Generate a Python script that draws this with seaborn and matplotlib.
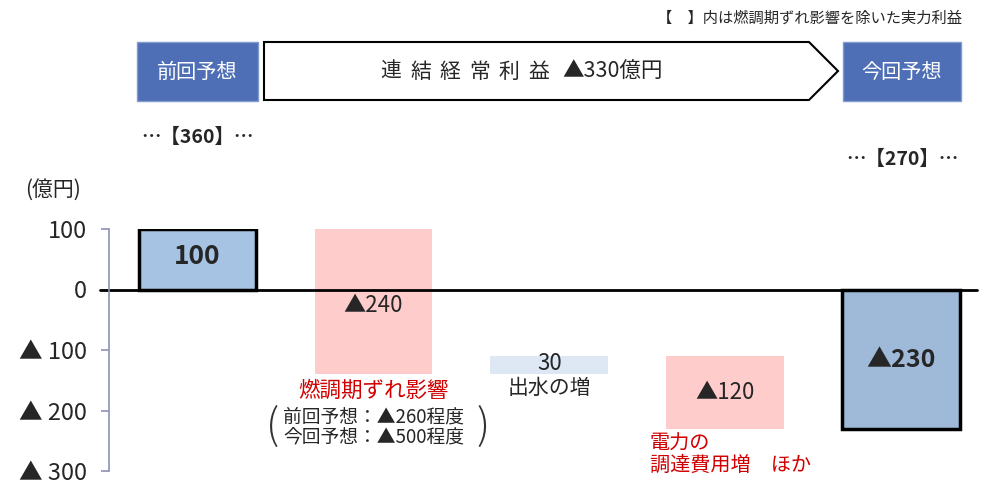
import numpy as np
import pandas as pd
import matplotlib
matplotlib.use('Agg')
import matplotlib.pyplot as plt
import seaborn as sns
from matplotlib.patches import Rectangle, Polygon

# ----- dados -----
categorias = ['前回予想', '燃調期ずれ影響', '出水の増', '電力の調達費用増 ほか', '今回予想']
variacoes = [100, -240, 30, -120, -230]
tipo = ['total', 'delta', 'delta', 'delta', 'total']
rotulos = ['100', '▲240', '30', '▲120', '▲230']
cores = ['#A7C3E4', '#FFCCCC', '#DEE8F4', '#FFCCCC', '#9FB9D9']
borda = ['black', 'none', 'none', 'none', 'black']
yticks = [100, 0, -100, -200, -300]
yticklabels = ['100', '0', '▲ 100', '▲ 200', '▲ 300']

# inicio / fim de cada barra (cascata)
inicio, fim = [], []
acum = 0
for v, t in zip(variacoes, tipo):
    if t == 'total':
        inicio.append(0)
        fim.append(v)
        acum = v
    else:
        inicio.append(acum)
        acum = acum + v
        fim.append(acum)
base = np.minimum(inicio, fim)
altura = np.abs(np.array(fim) - np.array(inicio))

df = pd.DataFrame({'cat': categorias, 'altura': altura})

sns.set_style('white')
plt.rcParams['font.family'] = ['Noto Sans CJK JP', 'DejaVu Sans']

fig = plt.figure(figsize=(10, 4.96), dpi=100)
ax = fig.add_axes([0.109, 25 / 496, 0.868, 242 / 496])

sns.barplot(data=df, x='cat', y='altura', bottom=base, color='#A7C3E4',
            width=0.67, errorbar=None, ax=ax)
for p, c, b in zip(ax.patches, cores, borda):
    p.set_facecolor(c)
    if b == 'none':
        p.set_edgecolor('none')
        p.set_linewidth(0)
    else:
        p.set_edgecolor(b)
        p.set_linewidth(2.5)
        p.set_zorder(3)

ax.set_xlim(-0.503, 4.43)
ax.set_ylim(-300, 100)
ax.axhline(0, xmin=-0.01, xmax=1, color='black', lw=2, clip_on=False, zorder=2)

ax.set_yticks(yticks)
ax.set_yticklabels(yticklabels, fontsize=17)
ax.set_xticks([])
ax.set_xlabel('')
ax.set_ylabel('')
for s in ['top', 'right', 'bottom']:
    ax.spines[s].set_visible(False)
ax.spines['left'].set_color('#8C90B4')
ax.spines['left'].set_linewidth(1.2)
ax.tick_params(axis='y', left=True, direction='out', length=6, color='#8C90B4',
               width=1.2, pad=10)

# rotulos das barras
ax.text(0, 55, rotulos[0], ha='center', va='center', fontsize=19, fontweight='bold')
ax.text(1, -27, rotulos[1], ha='center', va='center', fontsize=16)
ax.text(2, -122, rotulos[2], ha='center', va='center', fontsize=16)
ax.text(3, -171, rotulos[3], ha='center', va='center', fontsize=16)
ax.text(4, -117, rotulos[4], ha='center', va='center', fontsize=18, fontweight='bold')

ax.text(1, -167, '燃調期ずれ影響', ha='center', va='center', fontsize=15.5, color='#D00000')
ax.text(1, -228, '前回予想：▲260程度\n今回予想：▲500程度', ha='center', va='center',
        fontsize=13.5, linespacing=0.95)
ax.text(0.425, -228, '(', ha='center', va='center', fontsize=30, color='#333333',
        fontweight='light')
ax.text(1.62, -228, ')', ha='center', va='center', fontsize=30, color='#333333',
        fontweight='light')
ax.text(2, -163, '出水の増', ha='center', va='center', fontsize=15)
ax.text(2.57, -274, '電力の\n調達費用増　ほか', ha='left', va='center', fontsize=14.5,
        color='#D00000', linespacing=1.0)

# cabecalho (coordenadas de pixel)
top = fig.add_axes([0, 0, 1, 1], zorder=-1)
top.set_xlim(0, 1000)
top.set_ylim(496, 0)
top.axis('off')

azul = '#4E6EB5'
top.add_patch(Rectangle((137, 42), 121, 59, facecolor=azul, edgecolor='#7F9BD0', lw=1))
top.add_patch(Rectangle((843, 42), 118, 59, facecolor=azul, edgecolor='#7F9BD0', lw=1))
top.add_patch(Polygon([(264, 42), (809, 42), (838, 71), (809, 100), (264, 100)],
                      closed=True, facecolor='white', edgecolor='black', lw=1.5))
top.text(197.5, 72, '前回予想', color='white', ha='center', va='center', fontsize=14.5)
top.text(902, 72, '今回予想', color='white', ha='center', va='center', fontsize=14.5)
for i, ch in enumerate('連結経常利益'):
    top.text(391 + 29.5 * i, 72, ch, ha='center', va='center', fontsize=15)
top.text(562, 72, '▲330億円', ha='left', va='center', fontsize=15.5)
top.text(962, 18, '【　】内は燃調期ずれ影響を除いた実力利益', ha='right', va='center', fontsize=11)
top.text(197.5, 137, '…【360】…', ha='center', va='center', fontsize=14, fontweight='bold')
top.text(902, 159, '…【270】…', ha='center', va='center', fontsize=14, fontweight='bold')
top.text(53, 190, '(億円)', ha='center', va='center', fontsize=15)

fig.savefig('out.png', dpi=100)
